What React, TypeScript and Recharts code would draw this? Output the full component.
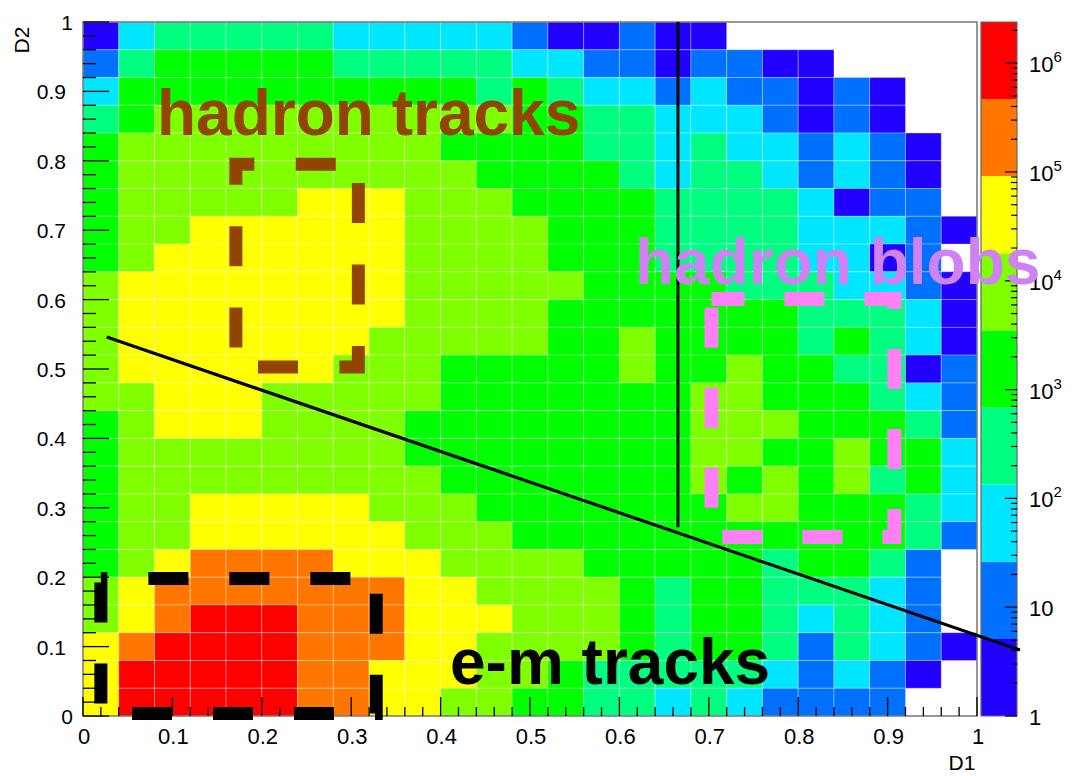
import React from 'react';
import { ComposedChart, XAxis, YAxis, ReferenceArea, ReferenceLine, Scatter } from 'recharts';

// ---- data: colour band of every (D1, D2) bin, 25 x 25 bins of width 0.04 ----
// band 0 = empty bin, 1..9 = colour bands of the log-z palette (see zBandEdges)
// rows listed from the top (D2 0.96-1.00) to the bottom (D2 0.00-0.04); columns D1 0 -> 1
const row00 = [1,3,4,4,4,4,4,3,3,3,3,3,2,1,1,2,1,1,0,0,0,0,0,0,0];
const row01 = [2,4,5,5,5,5,5,4,4,4,4,4,3,3,2,2,1,2,2,1,1,0,0,0,0];
const row02 = [3,5,5,5,5,5,5,5,5,5,5,4,5,4,3,3,2,3,2,2,1,2,1,0,0];
const row03 = [4,5,6,6,6,6,6,6,6,6,6,6,5,5,4,4,3,3,3,2,1,2,1,0,0];
const row04 = [5,6,6,6,6,6,6,6,6,6,5,5,5,5,4,4,3,4,3,3,2,3,2,1,0];
const row05 = [5,6,6,6,6,6,6,6,6,6,6,5,5,5,5,4,3,4,4,3,2,3,2,1,0];
const row06 = [5,6,6,6,6,6,7,7,7,6,6,6,5,5,5,5,4,4,4,4,3,1,2,2,0];
const row07 = [5,6,6,7,7,7,7,7,7,6,6,6,6,5,5,5,4,4,4,4,3,3,3,2,1];
const row08 = [5,6,7,7,7,7,7,7,7,6,6,6,6,5,5,5,4,4,4,4,3,3,1,2,0];
const row09 = [6,7,7,7,7,7,7,7,7,6,6,6,6,6,5,5,5,5,4,4,4,3,3,2,1];
const row10 = [6,7,7,7,7,7,7,7,7,6,6,6,6,5,5,5,5,5,5,5,4,4,4,3,1];
const row11 = [6,7,7,7,7,7,7,7,6,6,6,6,6,5,5,6,5,5,5,5,4,5,4,3,1];
const row12 = [6,7,7,7,7,7,7,6,6,6,5,5,5,5,5,6,5,5,6,5,5,4,4,1,2];
const row13 = [6,6,7,7,7,6,6,6,6,6,5,5,5,5,5,5,5,6,6,5,5,5,4,3,2];
const row14 = [5,6,7,7,7,6,6,6,6,5,5,5,5,5,5,5,5,6,6,6,5,5,5,4,2];
const row15 = [5,6,6,6,6,6,6,6,6,5,5,5,5,5,5,5,5,6,6,5,5,6,5,5,3];
const row16 = [5,6,6,6,6,6,6,6,6,6,5,5,5,5,5,5,5,6,5,6,5,6,4,5,3];
const row17 = [5,6,6,7,7,7,7,7,6,6,6,5,5,5,5,5,5,5,6,6,5,5,5,4,3];
const row18 = [5,6,6,7,7,7,7,7,7,6,6,6,5,5,5,5,5,5,5,5,5,5,5,4,2];
const row19 = [5,6,7,8,8,8,8,7,7,7,6,6,6,6,5,5,5,5,5,4,5,5,4,2,0];
const row20 = [6,7,8,8,8,8,8,8,8,7,7,6,6,6,6,5,4,5,5,4,4,4,3,2,0];
const row21 = [6,7,8,9,9,9,8,8,8,7,7,7,6,6,6,5,4,5,5,4,3,4,3,2,0];
const row22 = [7,8,9,9,9,9,8,8,8,7,7,6,6,6,6,5,4,5,5,4,2,4,3,2,1];
const row23 = [7,9,9,9,9,9,8,8,7,7,7,6,6,5,4,4,4,4,4,3,2,3,2,1,0];
const row24 = [7,9,9,9,9,9,8,8,7,7,6,6,5,5,4,4,3,4,3,2,2,2,2,0,0];
const binRows = [row00,row01,row02,row03,row04,row05,row06,row07,row08,row09,row10,row11,row12,
  row13,row14,row15,row16,row17,row18,row19,row20,row21,row22,row23,row24];
const binWidth = 0.04;

// z colour palette (log scale) and band edges in counts
const bandColors = ['#ffffff','#2200ff','#0070ff','#00e6ff','#00ff80','#00ff00','#80ff00','#ffff00','#ff7700','#ff0000'];
const zBandEdges = [1, 5.1, 26.2, 134, 684, 3500, 17900, 91600, 468000, 2390000];
const zMajorTicks = [1, 10, 100, 1000, 10000, 100000, 1000000];
const zTickLabels = ['1', '10', '10|2', '10|3', '10|4', '10|5', '10|6'];
const zMinorMult = [2,3,4,5,6,7,8,9];

// axis ticks
const axisMajorTicks = [0,0.1,0.2,0.3,0.4,0.5,0.6,0.7,0.8,0.9,1];
const axisTickLabels = ['0','0.1','0.2','0.3','0.4','0.5','0.6','0.7','0.8','0.9','1'];

// annotation lines and boxes (data coordinates)
const diagonalCut = [{ x: 0.0265, y: 0.546 }, { x: 1.048, y: 0.095 }];
const verticalCut = [{ x: 0.6655, y: 1.0 }, { x: 0.6655, y: 0.272 }];
const hadronTrackBox = { x1: 0.171, x2: 0.308, y1: 0.503, y2: 0.795 };
const emTrackBox = { x1: 0.020, x2: 0.328, y1: 0.0036, y2: 0.198 };
const hadronBlobBox = { x1: 0.703, x2: 0.9076, y1: 0.258, y2: 0.601 };

const FONT = '"Liberation Sans", Arial, Helvetica, sans-serif';
const W = 1072;
const H = 776;

// layout
const PLOT = { top: 22, bottom: 60, left: 83, right: 95 };
const ZBAR = { top: 22, bottom: 60, left: 981, right: 55 };
const AX = 30; // size reserved by a visible axis

// bin table built from the rows (bin lower-left corner + band)
const binTable: { x: number; y: number; band: number }[] = [];
binRows.forEach((row, r) => {
  row.forEach((band, c) => {
    binTable.push({
      x: Math.round(c * binWidth * 100) / 100,
      y: Math.round((binRows.length - 1 - r) * binWidth * 100) / 100,
      band,
    });
  });
});

const minorTicks = Array.from({ length: 51 }, (_, i) => Math.round(i * 2) / 100);
const isMajor = (v: number) => Math.round(v * 50) % 5 === 0;
const labelFor = (v: number) => {
  const idx = axisMajorTicks.findIndex((t) => Math.abs(t - v) < 1e-6);
  return idx >= 0 ? axisTickLabels[idx] : '';
};

const XTick = (props: any) => {
  const { x, payload } = props;
  const y0 = H - PLOT.bottom;
  const v = payload.value;
  const major = isMajor(v);
  return (
    <g>
      <line x1={x} x2={x} y1={y0} y2={y0 - (major ? 19 : 9)} stroke="#000" strokeWidth={1.3} />
      {major && (
        <text x={x + 1} y={y0 + 28} textAnchor="middle" fontSize={22} fontFamily={FONT} fill="#000">
          {labelFor(v)}
        </text>
      )}
    </g>
  );
};

const YTick = (props: any) => {
  const { y, payload } = props;
  const x0 = PLOT.left;
  const v = payload.value;
  const major = isMajor(v);
  const lab = labelFor(v);
  const dx = lab.length === 1 ? -10 : -17;
  return (
    <g>
      <line x1={x0} x2={x0 + (major ? 26 : 13)} y1={y} y2={y} stroke="#000" strokeWidth={1.3} />
      {major && (
        <text x={x0 + dx} y={y + 8} textAnchor="end" fontSize={21} fontFamily={FONT} fill="#000">
          {lab}
        </text>
      )}
    </g>
  );
};

const zTickValues: number[] = [];
zMajorTicks.forEach((d) => {
  zTickValues.push(d);
  if (d < 1000000) zMinorMult.forEach((m) => zTickValues.push(d * m));
});
zTickValues.push(2000000);

const ZTick = (props: any) => {
  const { y, payload } = props;
  const x0 = W - ZBAR.right;
  const v = payload.value;
  const idx = zMajorTicks.findIndex((t) => Math.abs(t - v) / t < 1e-6);
  const major = idx >= 0;
  let label: React.ReactNode = null;
  if (major) {
    const [base, exp] = zTickLabels[idx].split('|');
    label = (
      <text x={x0 + 12} y={y + 9} textAnchor="start" fontSize={22} fontFamily={FONT} fill="#000">
        <tspan>{base}</tspan>
        {exp && <tspan dy={-10} fontSize={15}>{exp}</tspan>}
      </text>
    );
  }
  return (
    <g>
      <line x1={x0} x2={x0 - (major ? 12 : 6)} y1={y} y2={y} stroke="#000" strokeWidth={1.2} />
      {label}
    </g>
  );
};

const bandTable = bandColors.slice(1).map((c, k) => ({ x: 0.5, z: zBandEdges[k + 1], color: c }));

const NoShape = () => <g />;

// colour bar (bands only)
function ColorBar() {
  return (
    <ComposedChart width={W} height={H} data={bandTable} margin={ZBAR}>
      <XAxis type="number" dataKey="x" domain={[0, 1]} allowDataOverflow hide />
      <YAxis type="number" dataKey="z" scale="log" domain={[1, 2390000]} allowDataOverflow hide />
      <Scatter dataKey="z" shape={NoShape} isAnimationActive={false} />
      {bandTable.map((b, k) => (
        <ReferenceArea key={'band' + k} x1={0} x2={1} y1={zBandEdges[k]} y2={b.z}
          fill={b.color} fillOpacity={1} stroke="none" ifOverflow="visible" />
      ))}
      <ReferenceArea x1={0} x2={1} y1={1} y2={2390000} fill="none" stroke="#666" strokeWidth={1.2} ifOverflow="visible" />
    </ComposedChart>
  );
}

// colour bar axis, drawn on top of the bands
function ColorBarAxis() {
  return (
    <ComposedChart width={W} height={H} data={bandTable} margin={{ ...ZBAR, right: ZBAR.right - AX }}>
      <XAxis type="number" dataKey="x" domain={[0, 1]} allowDataOverflow hide />
      <Scatter dataKey="z" shape={NoShape} isAnimationActive={false} />
      <YAxis type="number" dataKey="z" scale="log" domain={[1, 2390000]} allowDataOverflow
        orientation="right" width={AX} ticks={zTickValues} interval={0}
        axisLine={false} tickLine={false} tick={ZTick} />
    </ComposedChart>
  );
}

// the 2-D histogram with the cut lines and the dashed boxes
function HeatMap() {
  return (
    <ComposedChart width={W} height={H} data={binTable} margin={PLOT}>
      <XAxis type="number" dataKey="x" domain={[0, 1]} allowDataOverflow hide />
      <YAxis type="number" dataKey="y" domain={[0, 1]} allowDataOverflow hide />
      <Scatter dataKey="y" shape={NoShape} isAnimationActive={false} />
      {binTable.filter((b) => b.band > 0).map((b) => (
        <ReferenceArea
          key={`c${b.x}_${b.y}`}
          x1={b.x}
          x2={b.x + binWidth}
          y1={b.y}
          y2={b.y + binWidth}
          fill={bandColors[b.band]}
          fillOpacity={1}
          stroke="rgba(255,255,255,0.3)"
          strokeWidth={1}
          ifOverflow="visible"
        />
      ))}
      <ReferenceArea x1={0} x2={1} y1={0} y2={1} fill="none" stroke="#777" strokeWidth={1.5} ifOverflow="visible" />
      <ReferenceLine segment={verticalCut} stroke="#000" strokeWidth={3} ifOverflow="visible" />
      <ReferenceLine segment={diagonalCut} stroke="#000" strokeWidth={3.2} ifOverflow="visible" />
      <ReferenceArea {...hadronTrackBox} fill="none" stroke="#924500" strokeWidth={13}
        strokeDasharray="40 41.4" strokeDashoffset={21.5} ifOverflow="visible" />
      <ReferenceArea {...emTrackBox} fill="none" stroke="#000" strokeWidth={13}
        strokeDasharray="40 41" strokeDashoffset={33.5} ifOverflow="visible" />
      <ReferenceArea {...hadronBlobBox} fill="none" stroke="#ff80f4" strokeWidth={14}
        strokeDasharray="40 40" strokeDashoffset={7} ifOverflow="visible" />
    </ComposedChart>
  );
}

// D1 / D2 axes, drawn on top of the histogram
function HeatMapAxes() {
  return (
    <ComposedChart width={W} height={H} data={binTable}
      margin={{ ...PLOT, left: PLOT.left - AX, bottom: PLOT.bottom - AX }}>
      <Scatter dataKey="y" shape={NoShape} isAnimationActive={false} />
      <XAxis type="number" dataKey="x" domain={[0, 1]} allowDataOverflow height={AX}
        ticks={minorTicks} interval={0} axisLine={false} tickLine={false} tick={XTick} />
      <YAxis type="number" dataKey="y" domain={[0, 1]} allowDataOverflow width={AX}
        ticks={minorTicks} interval={0} axisLine={false} tickLine={false} tick={YTick} />
    </ComposedChart>
  );
}

function Annotations() {
  return (
    <svg width={W} height={H} style={{ position: 'absolute', left: 0, top: 0, pointerEvents: 'none' }}>
      <text x={157} y={135} fontSize={64} fontWeight="bold" fontFamily={FONT} fill="#924500">hadron tracks</text>
      <text x={635} y={284} fontSize={64} fontWeight="bold" fontFamily={FONT} fill="#cf82f2">hadron blobs</text>
      <text x={450} y={684} fontSize={64} fontWeight="bold" fontFamily={FONT} fill="#000">e-m tracks</text>
      <text x={21} y={40} fontSize={21} fontFamily={FONT} fill="#000" textAnchor="middle"
        transform="rotate(-90, 21, 40)" dominantBaseline="central">D2</text>
      <text x={962} y={770} fontSize={21} fontFamily={FONT} fill="#000" textAnchor="middle">D1</text>
    </svg>
  );
}

const layer: React.CSSProperties = { position: 'absolute', left: 0, top: 0 };

export default function App() {
  return (
    <div style={{ position: 'absolute', left: 0, top: 0, width: W, height: H, background: '#fff' }}>
      <div style={layer}><ColorBar /></div>
      <div style={layer}><HeatMap /></div>
      <div style={layer}><ColorBarAxis /></div>
      <div style={layer}><HeatMapAxes /></div>
      <Annotations />
    </div>
  );
}
